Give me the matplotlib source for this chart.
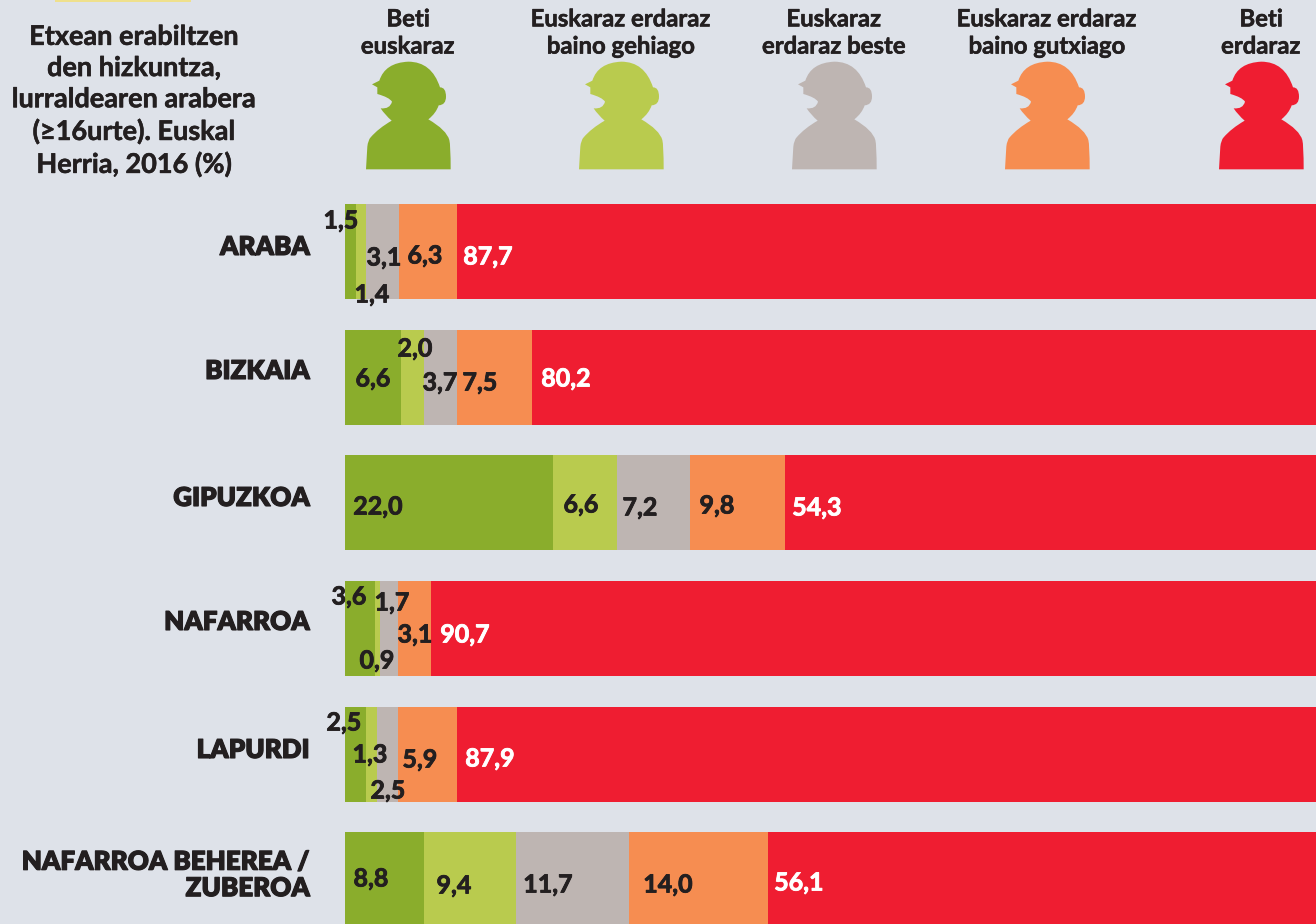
"""Etxean erabiltzen den hizkuntza, lurraldearen arabera (Euskal Herria, 2016)."""
import matplotlib

matplotlib.use("Agg")
import matplotlib.patheffects as pe
import matplotlib.pyplot as plt
import numpy as np
from matplotlib.patches import PathPatch
from matplotlib.path import Path

TITLE = "Etxean erabiltzen\nden hizkuntza,\nlurraldearen arabera\n(≥16urte). Euskal\nHerria, 2016 (%)"
CATEGORIES = ["Beti\neuskaraz", "Euskaraz erdaraz\nbaino gehiago", "Euskaraz\nerdaraz beste",
              "Euskaraz erdaraz\nbaino gutxiago", "Beti\nerdaraz"]
REGIONS = ["ARABA", "BIZKAIA", "GIPUZKOA", "NAFARROA", "LAPURDI", "NAFARROA BEHEREA /\nZUBEROA"]

# printed figures, one list per region
LABELS = [
    ["1,5", "1,4", "3,1", "6,3", "87,7"],
    ["6,6", "2,0", "3,7", "7,5", "80,2"],
    ["22,0", "6,6", "7,2", "9,8", "54,3"],
    ["3,6", "0,9", "1,7", "3,1", "90,7"],
    ["2,5", "1,3", "2,5", "5,9", "87,9"],
    ["8,8", "9,4", "11,7", "14,0", "56,1"],
]
# segment lengths as drawn in the original, which don't quite follow the printed figures
ARABA = [1.13, 1.03, 3.40, 5.97, 88.47]
BIZKAIA = [5.77, 2.37, 3.40, 7.72, 80.74]
GIPUZKOA = [21.42, 6.59, 7.52, 9.78, 54.69]
NAFARROA = [3.09, 0.51, 1.85, 3.40, 91.15]
LAPURDI = [2.16, 1.13, 2.16, 6.08, 88.47]
NAF_BEH_ZUB = [8.14, 9.47, 11.64, 14.32, 56.43]

COLORS = ["#8aad2c", "#b9cb4e", "#beb5b2", "#f68d51", "#ef1d31"]
BG = "#dee2e9"
INK = "#231f20"
W, H = 1316, 924
FONT = "Lato"

# hand placed in the original, so every label has its own spot (pixels)
LABEL_XY = [
    [(341, 221), (372, 295), (384, 258), (425, 256), (488, 257)],
    [(373, 379), (415, 349), (440, 383), (480, 383), (566, 379)],
    [(378, 507), (581, 505), (640, 508), (717, 506), (817, 508)],
    [(349, 597), (377, 661), (392, 603), (415, 635), (465, 635)],
    [(344, 723), (370, 755), (388, 791), (420, 760), (490, 759)],
    [(371, 879), (454, 886), (548, 885), (668, 885), (799, 883)],
]
ROW_Y = [251.5, 377.5, 502.5, 628.5, 754.5, 879.5]
REGION_Y = [247, 371, 498, 622, 750, 875]
ICON_X = [366, 579, 792, 1005, 1219]
HEAD_X = [408, 621, 834, 1047, 1261]


def icon_path(x0):
    # outline, 3x crop at (340, 50)
    verts, codes = [(78, 358)], [Path.MOVETO]
    def line(*p):
        verts.append(p)
        codes.append(Path.LINETO)
    def curve(cx, cy, x, y):
        verts.extend([(cx, cy), (x, y)])
        codes.extend([Path.CURVE3, Path.CURVE3])
    line(82, 290)
    curve(84, 270, 92, 262)
    curve(115, 235, 155, 212)
    curve(135, 195, 122, 175)
    curve(150, 178, 156, 155)
    curve(148, 142, 112, 132)
    line(112, 112)
    line(96, 103)
    line(118, 92)
    curve(135, 38, 205, 35)
    curve(275, 35, 300, 112)
    curve(318, 112, 318, 140)
    curve(318, 165, 296, 166)
    curve(288, 190, 265, 208)
    curve(320, 240, 328, 270)
    curve(332, 285, 332, 358)
    verts.append((78, 358))
    codes.append(Path.CLOSEPOLY)
    v = np.array(verts, dtype=float) / 3
    v[:, 0] += x0 - 78 / 3
    v[:, 1] += 50
    return Path(v, codes)


def fatten(color, amount):
    # the original face is heavier than Lato Bold
    return [pe.withStroke(linewidth=amount, foreground=color)]


fig = plt.figure(figsize=(W / 100, H / 100), dpi=100, facecolor=BG)

# bars: x axis is 0-100 %, y axis in pixels from the top
ax = fig.add_axes([345 / W, 0, (W - 345) / W, 1])
ax.set_xlim(0, 100)
ax.set_ylim(H, 0)
ax.axis("off")
rows = np.array([ARABA, BIZKAIA, GIPUZKOA, NAFARROA, LAPURDI, NAF_BEH_ZUB])
for j, c in enumerate(COLORS):
    ax.barh(ROW_Y, rows[:, j], left=rows[:, :j].sum(axis=1), height=95, color=c, linewidth=0)

# everything else sits on a full figure pixel overlay
top = fig.add_axes([0, 0, 1, 1])
top.set_xlim(0, W)
top.set_ylim(H, 0)
top.axis("off")
top.patch.set_alpha(0)

top.fill_between([55, 191], 0, 1.5, color="#efe08c", linewidth=0)
top.text(134, 101, TITLE, ha="center", va="center", family=FONT, weight="bold",
         fontsize=19.5, color=INK, linespacing=1.36, path_effects=fatten(INK, 0.4))

for i, name in enumerate(CATEGORIES):
    top.text(HEAD_X[i], 32.5, name, ha="center", va="center", family=FONT, weight="bold",
             fontsize=17.2, color=INK, linespacing=1.22, path_effects=fatten(INK, 0.4))
    top.add_patch(PathPatch(icon_path(ICON_X[i]), facecolor=COLORS[i], edgecolor="none"))

for name, y in zip(REGIONS, REGION_Y):
    top.text(310, y, name, ha="right", va="center", family=FONT, weight="heavy",
             fontsize=18.7, color=INK, linespacing=1.12, path_effects=fatten(INK, 0.8))

for labels, spots in zip(LABELS, LABEL_XY):
    for j, (txt, (x, y)) in enumerate(zip(labels, spots)):
        c = "white" if j == 4 else INK
        top.text(x, y, txt, ha="center", va="center", family=FONT, weight="bold", fontsize=18,
                 color=c, path_effects=fatten(c, 0.6))

fig.savefig("out.png", dpi=100, facecolor=BG)
plt.close(fig)
